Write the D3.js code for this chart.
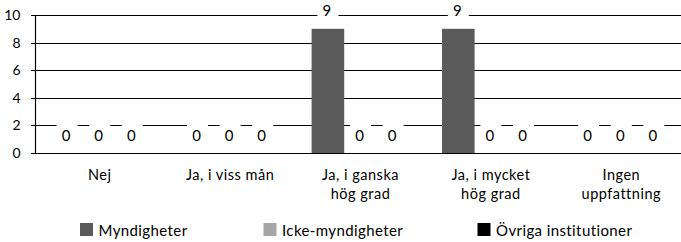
<!DOCTYPE html>
<html>
<head>
<meta charset="utf-8">
<script src="https://cdn.jsdelivr.net/npm/d3@7"></script>
<style>
  html, body { margin: 0; padding: 0; background: #fff; }
  svg { display: block; font-family: Lato, "Open Sans", sans-serif; }
</style>
</head>
<body>
<div id="chart"></div>
<script>
// chart data
const categories = [["Nej"], ["Ja, i viss mån"], ["Ja, i ganska", "hög grad"], ["Ja, i mycket", "hög grad"], ["Ingen", "uppfattning"]];
const seriesNames = ["Myndigheter", "Icke-myndigheter", "Övriga institutioner"];
const myndigheter = [0, 0, 9, 9, 0];
const ickeMyndigheter = [0, 0, 0, 0, 0];
const ovriga = [0, 0, 0, 0, 0];
const yTicks = [0, 2, 4, 6, 8, 10];

const seriesValues = [myndigheter, ickeMyndigheter, ovriga];
const colors = ["#5a5a5a", "#a6a6a6", "#000000"];

const width = 681, height = 242;
const svg = d3.select("#chart").append("svg")
    .attr("width", width)
    .attr("height", height);

// scales
const x0 = d3.scaleBand()
    .domain(d3.range(categories.length))
    .range([34.5, 686.5])
    .paddingInner(0.25)
    .paddingOuter(0.125);
const x1 = d3.scaleBand()
    .domain(d3.range(seriesNames.length))
    .range([0, x0.bandwidth()]);
const y = d3.scaleLinear().domain([0, 10]).range([153, 15]);

const axisX = 35.5;

// gridlines + tick marks
svg.append("g")
    .selectAll("line")
    .data(yTicks)
    .join("line")
    .attr("x1", axisX - 4.5)
    .attr("x2", width)
    .attr("y1", d => Math.round(y(d)) + 0.5)
    .attr("y2", d => Math.round(y(d)) + 0.5)
    .attr("stroke", "#000")
    .attr("stroke-width", 1.2);

// y axis line
svg.append("line")
    .attr("x1", axisX).attr("x2", axisX)
    .attr("y1", Math.round(y(10)) + 0.5)
    .attr("y2", Math.round(y(0)) + 0.5)
    .attr("stroke", "#000")
    .attr("stroke-width", 1.2);

// tick labels
svg.append("g")
    .selectAll("text")
    .data(yTicks)
    .join("text")
    .attr("x", 20.5)
    .attr("y", d => y(d))
    .attr("dy", "0.36em")
    .attr("text-anchor", "end")
    .style("font-size", "14px")
    .style("fill", "#000")
    .text(d => String(d));

// bars
const rows = [];
seriesValues.forEach((vals, s) => vals.forEach((v, c) => rows.push({ s: s, c: c, v: v })));
const barMid = d => x0(d.c) + x1(d.s) + x1.bandwidth() / 2 - 1;

svg.append("g")
    .selectAll("rect")
    .data(rows.filter(d => d.v > 0))
    .join("rect")
    .attr("x", d => x0(d.c) + x1(d.s))
    .attr("y", d => y(d.v))
    .attr("width", x1.bandwidth())
    .attr("height", d => y(0) - y(d.v))
    .attr("fill", d => colors[d.s]);

// white boxes behind value labels
svg.append("g")
    .selectAll("rect")
    .data(rows)
    .join("rect")
    .attr("x", d => barMid(d) - 9.5)
    .attr("y", d => y(d.v) - 31.5)
    .attr("width", 21)
    .attr("height", 24)
    .attr("fill", "#fff");

// value labels
svg.append("g")
    .selectAll("text")
    .data(rows)
    .join("text")
    .attr("x", barMid)
    .attr("y", d => y(d.v) - 12.5)
    .attr("text-anchor", "middle")
    .style("font-size", "15px")
    .style("fill", "#000")
    .text(d => String(d.v));

// category labels
const cat = svg.append("g")
    .selectAll("text")
    .data(categories)
    .join("text")
    .attr("x", (d, i) => x0(i) + x0.bandwidth() / 2)
    .attr("y", 179.5)
    .attr("text-anchor", "middle")
    .style("font-size", "14.5px")
    .style("letter-spacing", "0.5px")
    .style("fill", "#000");

cat.each(function(lines, i) {
    const cx = x0(i) + x0.bandwidth() / 2;
    d3.select(this).selectAll("tspan")
        .data(lines)
        .join("tspan")
        .attr("x", cx)
        .attr("dy", (d, j) => j === 0 ? 0 : 19)
        .text(d => d);
});

// legend
const legendX = [80, 263.5, 477.5];
const legend = svg.append("g")
    .selectAll("g")
    .data(seriesNames)
    .join("g")
    .attr("transform", (d, i) => `translate(${legendX[i]},223)`);

legend.append("rect")
    .attr("width", 13)
    .attr("height", 13)
    .attr("fill", (d, i) => colors[i]);

legend.append("text")
    .attr("x", 18.5)
    .attr("y", 12.5)
    .style("font-size", "15px")
    .style("letter-spacing", "0.4px")
    .style("fill", "#000")
    .text(d => d);
</script>
</body>
</html>
